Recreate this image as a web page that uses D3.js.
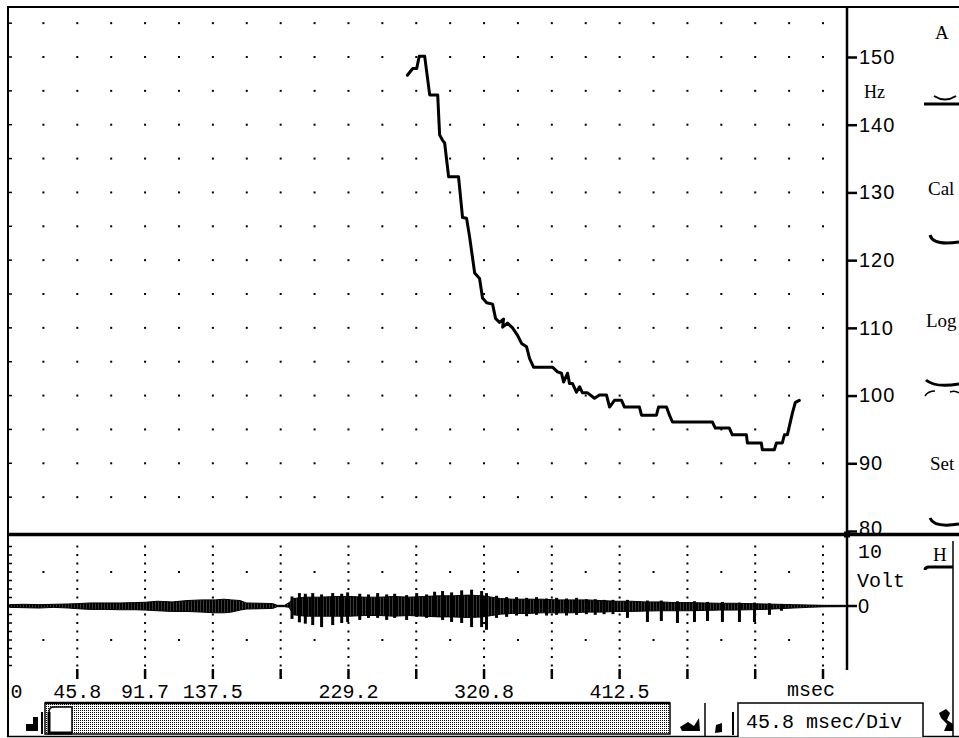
<!DOCTYPE html>
<html>
<head>
<meta charset="utf-8">
<script src="https://cdn.jsdelivr.net/npm/d3@7"></script>
<style>
  html, body { margin: 0; padding: 0; background: #fff; }
  svg { display: block; }
</style>
</head>
<body>
<svg id="chart" width="959" height="738"></svg>
<script>
// ---- Pitch track (fundamental frequency, Hz) against time (msec) ----
const pitchTime = [269.0, 272.6, 275.3, 277.0, 280.7, 284.1, 289.5, 290.8, 292.8, 294.2,
  296.9, 303.6, 306.3, 309.0, 311.1, 314.5, 317.8, 319.8, 322.6, 326.6,
  328.6, 331.3, 334.0, 333.4, 336.7, 340.1, 343.5, 346.2, 349.6, 351.6,
  354.3, 367.1, 370.5, 373.2, 374.6, 377.3, 378.6, 380.6, 383.3, 385.4,
  387.4, 390.8, 395.5, 398.9, 403.6, 405.7, 409.0, 413.8, 415.8, 425.9,
  427.3, 437.4, 438.8, 444.2, 446.2, 448.2, 475.2, 477.2, 486.7, 488.7,
  498.2, 498.9, 508.3, 509.0, 517.1, 518.5, 522.5, 523.9, 525.9, 529.3,
  531.3, 534.0];
const pitchHz = [147.3, 148.3, 148.3, 150.1, 150.1, 144.4, 144.4, 138.5, 137.7, 137.3,
  132.3, 132.3, 126.3, 126.2, 123.4, 118.1, 117.3, 114.4, 113.7, 113.5,
  111.4, 110.8, 111.3, 110.1, 110.7, 110.0, 108.9, 107.7, 107.2, 105.5,
  104.2, 104.2, 103.5, 103.3, 102.0, 103.3, 101.8, 101.8, 100.5, 101.3,
  100.4, 100.4, 99.6, 100.1, 100.1, 98.3, 99.3, 99.3, 98.3, 98.3,
  97.1, 97.1, 98.3, 98.3, 97.1, 96.1, 96.1, 95.2, 95.2, 94.2,
  94.2, 93.0, 93.0, 92.0, 92.0, 93.0, 93.0, 94.2, 94.2, 97.4,
  99.0, 99.3];

// ---- Waveform (Volt): dense band envelope ----
const envTime = [0, 10, 20, 30, 40, 46, 55, 65, 75, 85, 92, 100, 110, 120, 130,
  139, 145, 150, 156, 160, 170, 178, 181, 186, 189, 192, 200, 210, 220, 230,
  240, 250, 260, 270, 280, 290, 300, 310, 320, 326, 332, 340, 350, 360, 370,
  380, 390, 400, 410, 420, 430, 440, 450, 460, 470, 480, 490, 500, 510, 520,
  530, 540, 550, 565];
const envHigh = [0.2, 0.25, 0.2, 0.25, 0.3, 0.35, 0.45, 0.45, 0.45, 0.5, 0.55, 0.7, 0.6, 0.8, 0.9,
  0.9, 1.0, 0.9, 0.8, 0.45, 0.4, 0.35, 0.1, 0.1, 0.5, 1.1, 1.3, 1.3, 1.4, 1.4,
  1.3, 1.3, 1.4, 1.3, 1.4, 1.5, 1.5, 1.6, 1.5, 1.3, 1.1, 1.0, 1.0, 1.0, 0.9,
  0.9, 0.9, 0.8, 0.7, 0.7, 0.6, 0.6, 0.5, 0.5, 0.45, 0.4, 0.4, 0.35, 0.3, 0.25,
  0.2, 0.15, 0.1, 0.1];
const envLow = [-0.2, -0.25, -0.3, -0.2, -0.3, -0.4, -0.5, -0.5, -0.55, -0.55, -0.6, -0.7, -0.8, -0.8, -0.9,
  -1.0, -1.0, -0.9, -0.6, -0.45, -0.4, -0.35, -0.1, -0.1, -0.2, -1.3, -1.5, -1.5, -1.5, -1.5,
  -1.4, -1.4, -1.5, -1.4, -1.5, -1.6, -1.6, -1.7, -1.6, -1.4, -1.2, -1.1, -1.1, -1.0, -1.0,
  -1.0, -0.9, -0.9, -0.8, -0.8, -0.75, -0.7, -0.7, -0.7, -0.65, -0.6, -0.6, -0.55, -0.5, -0.4,
  -0.3, -0.2, -0.12, -0.1];

// ---- Waveform: glottal pulse strokes ----
const pulseTime = [191, 196, 200, 205, 211, 218.5, 224.6, 228.6, 236.8, 242.7,
  248.9, 255, 260.4, 268.5, 275.3, 282, 287.4, 292.8, 298.9, 305.7,
  312.4, 319.2, 322.5, 329.3, 336.1, 342.8, 349.6, 356.3, 363.1, 369.9,
  376.6, 383.4, 390, 396, 402, 408, 417.8, 431.3, 440.7, 451.6,
  463.1, 471.9, 482, 493.5, 503.7, 513.8, 521.9];
const pulseHigh = [1.4, 1.9, 1.8, 1.9, 1.7, 1.9, 1.8, 2.0, 1.8, 1.7,
  1.9, 1.7, 1.8, 1.6, 1.9, 1.7, 2.1, 2.2, 2.0, 2.3,
  2.4, 2.2, 1.9, 1.5, 1.3, 1.3, 1.2, 1.3, 1.1, 1.2,
  1.1, 1.2, 1.0, 1.0, 0.9, 0.9, 0.9, 0.8, 0.8, 0.7,
  0.7, 0.6, 0.6, 0.5, 0.5, 0.4, 0.3];
const pulseLow = [-1.9, -2.4, -2.6, -2.8, -3.1, -2.8, -2.5, -2.35, -2.05, -1.75,
  -1.75, -2.05, -1.75, -2.05, -1.6, -1.75, -1.5, -2.05, -2.35, -2.5,
  -3.1, -3.1, -3.5, -1.75, -1.6, -1.4, -1.5, -1.3, -1.4, -1.3,
  -1.4, -1.3, -1.2, -1.3, -1.2, -1.2, -1.75, -2.35, -2.2, -2.5,
  -2.35, -2.2, -2.35, -2.35, -2.35, -1.3, -0.7];

// ---- Axis labels ----
const hzTicks = [80, 90, 100, 110, 120, 130, 140, 150];
const timeDivLabels = ["0", "45.8", "91.7", "137.5", "", "229.2", "", "320.8", "", "412.5", "", "", ""];
const msecPerDiv = 550 / 12;

(function draw() {
  const svg = d3.select("#chart");
  const mono = "'Courier New', 'Liberation Mono', monospace";
  const serif = "'Times New Roman', 'Liberation Serif', serif";
  const sans = "'Liberation Sans', Arial, sans-serif";

  // Scales
  const x = d3.scaleLinear().domain([0, 550]).range([9.5, 823]);
  const yHz = d3.scaleLinear().domain([80, 150]).range([531, 57]);
  const yV = d3.scaleLinear().domain([-10, 10]).range([674, 538]);

  const axisX = 847;
  const splitY = 534.5;

  // Patterns
  const defs = svg.append("defs");
  const stip = defs.append("pattern").attr("id", "stipple").attr("patternUnits", "userSpaceOnUse")
    .attr("width", 2).attr("height", 2);
  stip.append("rect").attr("width", 2).attr("height", 2).attr("fill", "#fff");
  stip.append("rect").attr("width", 1).attr("height", 1).attr("fill", "#000");
  const hatch = defs.append("pattern").attr("id", "hatch").attr("patternUnits", "userSpaceOnUse")
    .attr("width", 3).attr("height", 3);
  hatch.append("rect").attr("width", 3).attr("height", 3).attr("fill", "#3a3a3a");
  hatch.append("rect").attr("width", 2).attr("height", 3).attr("fill", "#000");

  // ================= Upper panel: pitch =================
  const upper = svg.append("g");

  // dot grid: every half division in time, every 5 Hz
  const dotTimes = d3.range(1, 25).map(k => k * msecPerDiv / 2);
  const dotHz = d3.range(85, 160, 5);
  dotHz.forEach(h => {
    upper.selectAll(null).data(dotTimes).enter().append("rect")
      .attr("x", d => x(d) - 1).attr("y", yHz(h) - 1)
      .attr("width", 2).attr("height", 2).attr("fill", "#000");
    upper.append("line").attr("x1", 8).attr("x2", 12).attr("y1", yHz(h)).attr("y2", yHz(h))
      .attr("stroke", "#000").attr("stroke-width", 1.5);
  });

  // right Hz axis
  const hzAxis = d3.axisRight(yHz).tickValues(hzTicks).tickSize(10).tickPadding(2).tickFormat(d3.format("d"));
  const hzG = upper.append("g").attr("transform", `translate(${axisX},0)`).call(hzAxis);
  hzG.select(".domain").remove();
  hzG.selectAll(".tick line").attr("stroke", "#000").attr("stroke-width", 2.5);
  hzG.selectAll(".tick text").attr("font-family", sans).attr("font-size", 20)
    .attr("letter-spacing", 1).attr("fill", "#000")
    .attr("dy", d => d === 80 ? "0.15em" : "0.32em");
  upper.append("line").attr("x1", axisX).attr("x2", axisX).attr("y1", 7).attr("y2", splitY)
    .attr("stroke", "#000").attr("stroke-width", 2.5);
  upper.append("text").attr("x", 864).attr("y", 98).attr("font-family", serif).attr("font-size", 18)
    .text("Hz");

  // pitch curve
  const pitchLine = d3.line().x(d => x(d[0])).y(d => yHz(d[1]));
  upper.append("path").datum(d3.zip(pitchTime, pitchHz))
    .attr("d", pitchLine).attr("fill", "none").attr("stroke", "#000")
    .attr("stroke-width", 3).attr("stroke-linejoin", "round").attr("stroke-linecap", "round");

  // ================= Lower panel: waveform =================
  svg.append("rect").attr("x", 9).attr("y", splitY).attr("width", 950).attr("height", 738 - splitY)
    .attr("fill", "#fff");
  const lower = svg.append("g");

  const voltDots = d3.range(-7, 8).filter(k => k !== 0).map(k => k * 1.25);
  d3.range(1, 13).forEach(k => {
    lower.selectAll(null).data(voltDots).enter().append("rect")
      .attr("x", x(k * msecPerDiv) - 1).attr("y", d => yV(d) - 1)
      .attr("width", 2).attr("height", 2).attr("fill", "#000");
    lower.append("line").attr("x1", x(k * msecPerDiv)).attr("x2", x(k * msecPerDiv))
      .attr("y1", 669).attr("y2", 679).attr("stroke", "#000").attr("stroke-width", 2.5);
  });
  d3.range(0, 12).forEach(k => {
    [5, -5].forEach(v => {
      lower.append("rect").attr("x", x((k + 0.5) * msecPerDiv) - 1).attr("y", yV(v) - 1)
        .attr("width", 2).attr("height", 2).attr("fill", "#000");
    });
  });
  voltDots.forEach(v => {
    lower.append("line").attr("x1", 8).attr("x2", 12).attr("y1", yV(v)).attr("y2", yV(v))
      .attr("stroke", "#000").attr("stroke-width", 1.5);
  });

  // waveform baseline
  lower.append("line").attr("x1", x(0)).attr("x2", axisX).attr("y1", yV(0)).attr("y2", yV(0))
    .attr("stroke", "#000").attr("stroke-width", 1.5);
  // envelope band
  const band = d3.area().x(d => x(d[0])).y0(d => yV(d[2])).y1(d => yV(d[1]));
  lower.append("path").datum(d3.zip(envTime, envHigh, envLow))
    .attr("d", band).attr("fill", "url(#hatch)").attr("stroke", "#000").attr("stroke-width", 1);
  // pulse strokes
  lower.selectAll(".pulse").data(d3.zip(pulseTime, pulseHigh, pulseLow)).enter().append("line")
    .attr("class", "pulse")
    .attr("x1", d => x(d[0])).attr("x2", d => x(d[0]))
    .attr("y1", d => yV(d[1])).attr("y2", d => yV(d[2]))
    .attr("stroke", "#000").attr("stroke-width", 3);

  // right Volt axis
  lower.append("line").attr("x1", axisX).attr("x2", axisX).attr("y1", splitY).attr("y2", 670)
    .attr("stroke", "#000").attr("stroke-width", 2.5);
  lower.append("line").attr("x1", axisX).attr("x2", axisX + 10).attr("y1", yV(0)).attr("y2", yV(0))
    .attr("stroke", "#000").attr("stroke-width", 2.5);
  lower.append("text").attr("x", 858).attr("y", 558).attr("font-family", mono).attr("font-size", 20).text("10");
  lower.append("text").attr("x", 857).attr("y", 587).attr("font-family", mono).attr("font-size", 20).text("Volt");
  lower.append("text").attr("x", 858).attr("y", 613).attr("font-family", sans).attr("font-size", 20).text("0");

  // time labels
  timeDivLabels.forEach((lab, k) => {
    if (!lab) return;
    lower.append("text").attr("x", k === 0 ? x(0) + 1 : x(k * msecPerDiv))
      .attr("y", 698).attr("text-anchor", k === 0 ? "start" : "middle")
      .attr("font-family", mono).attr("font-size", 20).text(lab);
  });
  lower.append("text").attr("x", 811).attr("y", 696).attr("text-anchor", "middle")
    .attr("font-family", mono).attr("font-size", 20).text("msec");

  // ================= Frame =================
  svg.append("line").attr("x1", 7).attr("x2", 959).attr("y1", 7).attr("y2", 7)
    .attr("stroke", "#000").attr("stroke-width", 2);
  svg.append("line").attr("x1", 8).attr("x2", 8).attr("y1", 6).attr("y2", 737)
    .attr("stroke", "#000").attr("stroke-width", 2);
  svg.append("line").attr("x1", 7).attr("x2", 959).attr("y1", splitY).attr("y2", splitY)
    .attr("stroke", "#000").attr("stroke-width", 3.5);
  svg.append("rect").attr("x", axisX - 3).attr("y", splitY - 3).attr("width", 6).attr("height", 6).attr("fill", "#000");
  svg.append("line").attr("x1", 7).attr("x2", 959).attr("y1", 736.5).attr("y2", 736.5)
    .attr("stroke", "#000").attr("stroke-width", 1.5);

  // ================= Scroll bar & controls =================
  const ctl = svg.append("g");
  ctl.append("rect").attr("x", 45).attr("y", 703).attr("width", 625).attr("height", 31)
    .attr("fill", "url(#stipple)").attr("stroke", "#000").attr("stroke-width", 1.5);
  ctl.append("line").attr("x1", 45).attr("x2", 670).attr("y1", 703).attr("y2", 703)
    .attr("stroke", "#000").attr("stroke-width", 2.5);
  ctl.append("path").attr("d", "M49,733 L49,712 Q49,707 54,707 L72,707 L72,733 Z")
    .attr("fill", "#fff").attr("stroke", "#000").attr("stroke-width", 1.5);
  ctl.append("path").attr("d", "M49,712 L49,733 L72,733").attr("fill", "none").attr("stroke", "#000").attr("stroke-width", 3);
  ctl.append("path").attr("d", "M26,731 L26,724 L33,724 L33,717 L38,717 L38,731 Z").attr("fill", "#000");
  ctl.append("line").attr("x1", 42).attr("x2", 42).attr("y1", 712).attr("y2", 734).attr("stroke", "#000").attr("stroke-width", 2);
  ctl.append("path").attr("d", "M680,727 L688,722 L694,726 L699,718 L700,731 L682,731 Z").attr("fill", "#000");
  ctl.append("line").attr("x1", 705).attr("x2", 705).attr("y1", 703).attr("y2", 737).attr("stroke", "#000").attr("stroke-width", 1.5);
  ctl.append("path").attr("d", "M715,733 L716,725 L722,723 L722,732 Z").attr("fill", "#000");
  ctl.append("line").attr("x1", 733).attr("x2", 733).attr("y1", 712).attr("y2", 735).attr("stroke", "#000").attr("stroke-width", 2);
  ctl.append("path").attr("d", "M738,737 L738,703 L923,703 L923,737").attr("fill", "#fff")
    .attr("stroke", "#000").attr("stroke-width", 1.5);
  ctl.append("text").attr("x", 746).attr("y", 728).attr("font-family", mono).attr("font-size", 20)
    .text("45.8 msec/Div");
  ctl.append("path").attr("d", "M939,713 L946,709 L950,713 L947,720 L953,724 L953,731 L944,731 L947,724 L941,718 Z")
    .attr("fill", "#000");

  // right control strip
  ctl.append("line").attr("x1", 953).attr("x2", 953).attr("y1", 541).attr("y2", 737).attr("stroke", "#000").attr("stroke-width", 1.5);
  ctl.append("text").attr("x", 933).attr("y", 561).attr("font-family", serif).attr("font-size", 19).text("H");
  ctl.append("path").attr("d", "M925,570 Q925,567 929,567 L953,567").attr("fill", "none").attr("stroke", "#000").attr("stroke-width", 3);

  const labs = [["A", 935, 39], ["Cal", 928, 195], ["Log", 926, 327], ["Set", 930, 470]];
  labs.forEach(([t, lx, ly]) => {
    ctl.append("text").attr("x", lx).attr("y", ly).attr("font-family", serif).attr("font-size", 19).text(t);
  });
  ctl.append("path").attr("d", "M934,96 Q945,103 956,96").attr("fill", "none").attr("stroke", "#000").attr("stroke-width", 2);
  ctl.append("line").attr("x1", 924).attr("x2", 959).attr("y1", 104).attr("y2", 104).attr("stroke", "#000").attr("stroke-width", 3);
  ctl.append("path").attr("d", "M930,235 Q933,246 959,242").attr("fill", "none").attr("stroke", "#000").attr("stroke-width", 3);
  ctl.append("path").attr("d", "M926,380 Q935,388 959,384").attr("fill", "none").attr("stroke", "#000").attr("stroke-width", 3);
  ctl.append("path").attr("d", "M925,396 Q928,391 935,391").attr("fill", "none").attr("stroke", "#000").attr("stroke-width", 1.5);
  ctl.append("path").attr("d", "M950,392 Q955,390 959,393").attr("fill", "none").attr("stroke", "#000").attr("stroke-width", 1.5);
  ctl.append("path").attr("d", "M930,518 Q934,528 959,524").attr("fill", "none").attr("stroke", "#000").attr("stroke-width", 3);
})();
</script>
</body>
</html>
